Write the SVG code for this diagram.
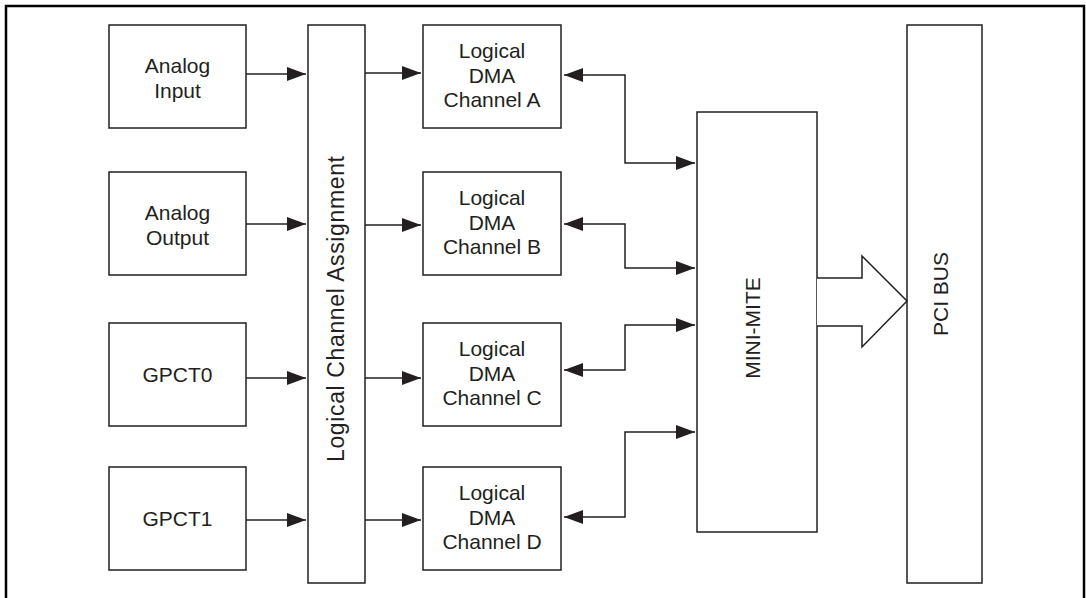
<svg xmlns="http://www.w3.org/2000/svg" width="1086" height="598" viewBox="0 0 1086 598">
<style>
.box{fill:#fff;stroke:#231f20;stroke-width:1.5}
.t{font-family:"Liberation Sans",Arial,sans-serif;font-size:21px;fill:#231f20;text-anchor:middle}
.ln{fill:none;stroke:#231f20;stroke-width:1.5}
.frame{fill:none;stroke:#000;stroke-width:2.5}
</style>
<defs>
<marker id="ah" viewBox="0 0 19 14" refX="19" refY="7" markerWidth="19" markerHeight="14" markerUnits="userSpaceOnUse" orient="auto-start-reverse">
<path d="M0,0 L19,7 L0,14 Z" fill="#231f20"/>
</marker>
</defs>
<polyline class="frame" points="6,598 6,6 1084,6 1084,598"/>
<g id="analog-input"><rect class="box" x="109" y="25" width="137" height="103"/><text class="t" x="177.5" y="73">Analog</text><text class="t" x="177.5" y="98">Input</text></g>
<g id="analog-output"><rect class="box" x="109" y="172" width="137" height="103"/><text class="t" x="177.5" y="220">Analog</text><text class="t" x="177.5" y="245">Output</text></g>
<g id="gpct0"><rect class="box" x="109" y="323" width="137" height="103"/><text class="t" x="177.5" y="382">GPCT0</text></g>
<g id="gpct1"><rect class="box" x="109" y="467" width="137" height="103"/><text class="t" x="177.5" y="526">GPCT1</text></g>
<g id="lca"><rect class="box" x="308" y="25" width="57" height="558"/><text class="t" style="font-size:23px" transform="translate(344,309) rotate(-90)" x="0" y="0" textLength="306" lengthAdjust="spacing">Logical Channel Assignment</text></g>
<g id="dma-a"><rect class="box" x="423" y="25" width="138" height="103"/><text class="t" x="492" y="58">Logical</text><text class="t" x="492" y="83">DMA</text><text class="t" x="492" y="107">Channel A</text></g>
<g id="dma-b"><rect class="box" x="423" y="172" width="138" height="103"/><text class="t" x="492" y="205">Logical</text><text class="t" x="492" y="230">DMA</text><text class="t" x="492" y="254">Channel B</text></g>
<g id="dma-c"><rect class="box" x="423" y="323" width="138" height="103"/><text class="t" x="492" y="356">Logical</text><text class="t" x="492" y="381">DMA</text><text class="t" x="492" y="405">Channel C</text></g>
<g id="dma-d"><rect class="box" x="423" y="467" width="138" height="103"/><text class="t" x="492" y="500">Logical</text><text class="t" x="492" y="525">DMA</text><text class="t" x="492" y="549">Channel D</text></g>
<g id="mini-mite"><rect class="box" x="697" y="112" width="120" height="420"/><text class="t" transform="translate(760,328) rotate(-90)">MINI-MITE</text></g>
<g id="pci-bus"><rect class="box" x="907" y="25" width="75" height="558"/><text class="t" transform="translate(948,294) rotate(-90)">PCI BUS</text></g>
<g id="connectors">
<line class="ln" x1="246" y1="74" x2="306" y2="74" marker-end="url(#ah)"/>
<line class="ln" x1="246" y1="224" x2="306" y2="224" marker-end="url(#ah)"/>
<line class="ln" x1="246" y1="378" x2="306" y2="378" marker-end="url(#ah)"/>
<line class="ln" x1="246" y1="520" x2="306" y2="520" marker-end="url(#ah)"/>
<line class="ln" x1="365" y1="73" x2="421" y2="73" marker-end="url(#ah)"/>
<line class="ln" x1="365" y1="225" x2="421" y2="225" marker-end="url(#ah)"/>
<line class="ln" x1="365" y1="378" x2="421" y2="378" marker-end="url(#ah)"/>
<line class="ln" x1="365" y1="520" x2="421" y2="520" marker-end="url(#ah)"/>
<polyline class="ln" points="564,75 625,75 625,163 695,163" marker-start="url(#ah)" marker-end="url(#ah)"/>
<polyline class="ln" points="564,224 625,224 625,268 695,268" marker-start="url(#ah)" marker-end="url(#ah)"/>
<polyline class="ln" points="564,370 625,370 625,325 695,325" marker-start="url(#ah)" marker-end="url(#ah)"/>
<polyline class="ln" points="564,517 625,517 625,432 695,432" marker-start="url(#ah)" marker-end="url(#ah)"/>
<path class="ln" d="M817,278 L862,278 L862,256 L907,301 L862,347 L862,326 L817,326" style="fill:#fff"/>
</g>
</svg>
